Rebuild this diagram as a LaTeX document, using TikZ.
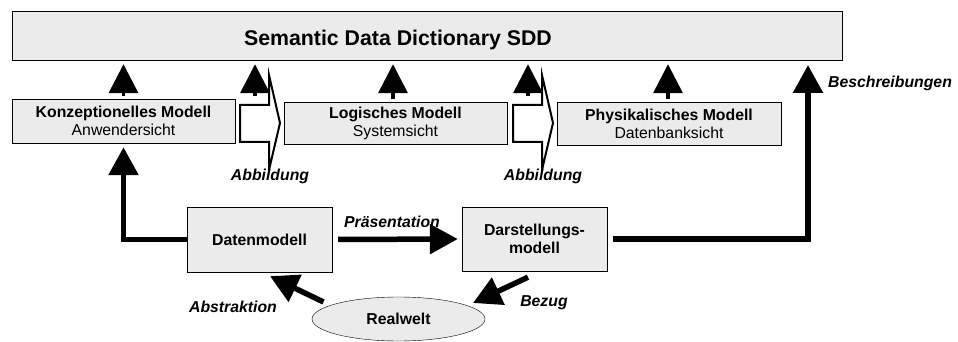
\documentclass[tikz,border=0pt]{standalone}
\usepackage{fontspec}
\setmainfont{Liberation Sans}
\usetikzlibrary{arrows.meta}
\usetikzlibrary{shapes.geometric}
\definecolor{kastengrau}{gray}{0.92}
\tikzset{
  Kasten/.style={draw, thin, fill=kastengrau, inner sep=2pt, align=center,
    font=\fontsize{15.8}{18}\selectfont}, % für Modellkästen
  Pfeil/.style={line width=5.5pt, -{Triangle[width=29pt,length=28pt]}}, % für dicke Pfeile
  SPfeil/.style={line width=3.5pt, -{Triangle[width=29pt,length=29pt]},
    shorten <=3pt, shorten >=4pt}, % für Pfeile zum SDD
  Blockpfeil/.style={draw, line width=2pt, fill=white, line join=miter},
  Beschriftung/.style={inner sep=0pt, font=\fontsize{15.8}{18}\selectfont\bfseries\itshape}
}
\begin{document}
\begin{tikzpicture}[x=1pt, y=-1pt]
\useasboundingbox (0,0) rectangle (958,342);

%Kästen
\node[Kasten, minimum width=830pt, minimum height=49pt] (SDD) at (427,35.5) {};
\node[inner sep=0pt, font=\fontsize{21.3}{24}\selectfont\bfseries] (SDDtitel) at (398,40)
  {Semantic Data Dictionary SDD};
\node[Kasten, minimum width=223pt, minimum height=44pt] (Konz) at (123.5,121)
  {\textbf{Konzeptionelles Modell}\\Anwendersicht};
\node[Kasten, minimum width=223pt, minimum height=42pt] (Logi) at (395.5,123)
  {\textbf{Logisches Modell}\\Systemsicht};
\node[Kasten, minimum width=224pt, minimum height=43pt] (Phys) at (669,123.5)
  {\textbf{Physikalisches Modell}\\Datenbanksicht};
\node[Kasten, minimum width=145pt, minimum height=65pt, font=\fontsize{15.8}{18}\selectfont\bfseries]
  (Daten) at (259.5,239.5) {Datenmodell};
\node[Kasten, minimum width=145pt, minimum height=64pt, font=\fontsize{15.8}{18}\selectfont\bfseries]
  (Darst) at (534.5,239) {Darstellungs-\\modell};
\node[Kasten, ellipse, minimum width=173pt, minimum height=44pt, inner sep=0pt,
  font=\fontsize{15.8}{18}\selectfont\bfseries] (Realwelt) at (398.5,319) {Realwelt};

%Abbildungspfeile
\foreach \x/\n in {240/1, 513/2}{
  \draw[Blockpfeil] (\x,105) -- ++(29,0) -- ++(0,-30) -- ++(11,48) -- ++(-11,47)
    -- ++(0,-28) -- ++(-29,0) -- cycle;
  \coordinate (abb\n) at (\x+15,99);
  \node[Beschriftung] (abbtext\n) at (\x+30,176) {Abbildung};
}

%Pfeile zum SDD
\coordinate (sddR) at (808,60);
\draw[SPfeil] (Konz.north) -- (Konz.north |- SDD.south);
\draw[SPfeil] ([xshift=-2.5pt]Logi.north) -- ([xshift=-2.5pt]Logi.north |- SDD.south);
\draw[SPfeil] ([xshift=-1pt]Phys.north) -- ([xshift=-1pt]Phys.north |- SDD.south);
\foreach \n in {1,2}
  \draw[SPfeil] (abb\n) -- (abb\n |- SDD.south);

%Verbindungen
\draw[Pfeil, shorten >=4pt] (Daten.west) -| (Konz.south);
\draw[Pfeil, shorten <=6pt, shorten >=4pt] (Daten.east) -- (Darst.west);
\draw[Pfeil, shorten >=5pt] ([xshift=6pt]Darst.east) -| (sddR);
\draw[Pfeil] ([shift={(-75,-17)}]Realwelt.center) -- ([shift={(10.5,4)}]Daten.south);
\draw[Pfeil] ([shift={(-6.5,6)}]Darst.south) -- ([shift={(74.5,-16)}]Realwelt.center);

%Beschriftungen
\node[Beschriftung] (praes) at (392,222) {Präsentation};
\node[Beschriftung] (abstr) at (233,307) {Abstraktion};
\node[Beschriftung] (bezug) at (544,303) {Bezug};
\node[Beschriftung] (beschr) at (890,83) {Beschreibungen};
\end{tikzpicture}
\end{document}
